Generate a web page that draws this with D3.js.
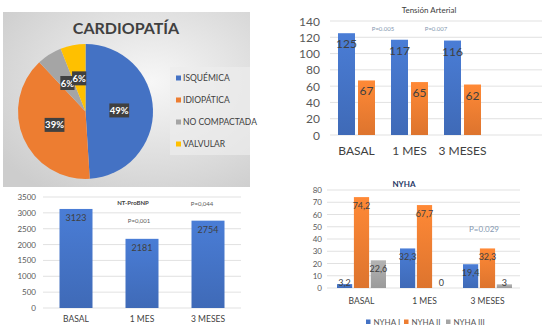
<!DOCTYPE html>
<html><head><meta charset="utf-8">
<script src="https://cdn.jsdelivr.net/npm/d3@7"></script>
<style>body{margin:0;background:#fff}svg{display:block;font-family:Lato,"Open Sans",sans-serif}</style>
</head><body>
<svg id="c" width="560" height="336"></svg>
<script>
// ---- data ----
const pieLabels = ["ISQUÉMICA","IDIOPÁTICA","NO COMPACTADA","VALVULAR"];
const pieValues = [49,39,6,6];
const pieColors = ["#4472C4","#ED7D31","#A5A5A5","#FFC000"];

const taCategories = ["BASAL","1 MES","3 MESES",""];
const taSistolica = [125,117,116];
const taDiastolica = [67,65,62];
const taTicks = [0,20,40,60,80,100,120,140];
const taPvalues = ["P=0.005","P=0.007"];

const bnpCategories = ["BASAL","1 MES","3 MESES"];
const bnpValues = [3123,2181,2754];
const bnpTicks = [0,500,1000,1500,2000,2500,3000,3500];
const bnpPvalues = ["P=0,001","P=0,044"];

const nyhaCategories = ["BASAL","1 MES","3 MESES"];
const nyhaSeries = ["NYHA I","NYHA II","NYHA III"];
const nyhaI = [3.2,32.3,19.4];
const nyhaII = [74.2,67.7,32.3];
const nyhaIII = [22.6,0,3];
const nyhaLabelsI = ["3,2","32,3","19,4"];
const nyhaLabelsII = ["74,2","67,7","32,3"];
const nyhaLabelsIII = ["22,6","0","3"];
const nyhaTicks = [0,10,20,30,40,50,60,70,80];
const nyhaColors = ["#4472C4","#ED7D31","#A5A5A5"];

const svg = d3.select("#c");
const defs = svg.append("defs");
const rg = defs.append("radialGradient").attr("id","pbg").attr("cx","60%").attr("cy","40%").attr("r","75%");
rg.append("stop").attr("offset","0%").attr("stop-color","#f7f7f7");
rg.append("stop").attr("offset","100%").attr("stop-color","#cdcdcd");
function barGrad(id,c){
  const g=defs.append("linearGradient").attr("id",id).attr("x1",0).attr("y1",0).attr("x2",0).attr("y2",1);
  g.append("stop").attr("offset","0%").attr("stop-color",d3.color(c).brighter(0.25));
  g.append("stop").attr("offset","100%").attr("stop-color",d3.color(c).darker(0.2));
}
barGrad("gb","#4472C4"); barGrad("go","#ED7D31"); barGrad("gg","#A5A5A5");

// ---- Pie panel ----
const pp = svg.append("g");
pp.append("rect").attr("x",3).attr("y",12).attr("width",247).attr("height",175).attr("fill","url(#pbg)");
pp.append("text").attr("x",126).attr("y",34).attr("text-anchor","middle").attr("font-size",16).attr("font-weight","bold").attr("fill","#404040").text("CARDIOPATÍA");
const pie = d3.pie().sort(null).value(d=>d)(pieValues);
const R = 67.5;
const arc = d3.arc().innerRadius(0).outerRadius(R);
const pg = pp.append("g").attr("transform","translate(85.5,111.5)");
pg.selectAll("path").data(pie).join("path").attr("d",arc).attr("fill",(d,i)=>pieColors[i]);
const lbl = pg.selectAll("g.l").data(pie).join("g").attr("class","l").attr("transform",d=>{const c=arc.centroid(d);return `translate(${c[0]},${c[1]})`;});
lbl.each(function(d){
  const t = d.value+"%";
  const w = t.length*5.6+3;
  d3.select(this).append("rect").attr("x",-w/2).attr("y",-7).attr("width",w).attr("height",14).attr("fill","#404040");
  d3.select(this).append("text").attr("text-anchor","middle").attr("y",3.5).attr("font-size",9.5).attr("font-weight","bold").attr("fill","#fff").text(t);
});
pp.append("rect").attr("x",170).attr("y",67).attr("width",80).attr("height",88).attr("fill","#ececec").attr("opacity",0.7);
const lg = pp.selectAll("g.lg").data(pieLabels).join("g").attr("transform",(d,i)=>`translate(176,${78+i*22})`);
lg.append("rect").attr("x",0).attr("y",-2.5).attr("width",5).attr("height",5).attr("fill",(d,i)=>pieColors[i]);
lg.append("text").attr("x",7).attr("y",3).attr("font-size",8.5).attr("fill","#404040").text(d=>d);

// ---- Tensión Arterial ----
const ta = svg.append("g");
const taY = d3.scaleLinear().domain([0,140]).range([135,21]);
const taX = d3.scaleBand().domain(taCategories.map((d,i)=>i)).range([330,542]);
ta.append("text").attr("x",429).attr("y",13).attr("text-anchor","middle").attr("font-size",8).attr("fill","#404040").text("Tensión Arterial");
ta.append("g").selectAll("line").data(taTicks).join("line").attr("x1",330).attr("x2",542).attr("y1",d=>taY(d)).attr("y2",d=>taY(d)).attr("stroke","#d9d9d9").attr("stroke-width",0.8);
ta.append("g").selectAll("text").data(taTicks).join("text").attr("x",320).attr("y",d=>taY(d)+4.5).attr("text-anchor","end").attr("font-size",12).attr("fill","#595959").text(d=>d);
const taBW = 17;
[taSistolica,taDiastolica].forEach((vals,s)=>{
  const gx = i=>taX(i)+8+s*(taBW+3);
  ta.append("g").selectAll("rect").data(vals).join("rect").attr("x",(d,i)=>gx(i)).attr("y",d=>taY(d)).attr("width",taBW).attr("height",d=>taY(0)-taY(d)).attr("fill",s?"url(#go)":"url(#gb)");
  ta.append("g").selectAll("text").data(vals).join("text").attr("x",(d,i)=>gx(i)+taBW/2).attr("y",d=>taY(d)+15).attr("text-anchor","middle").attr("font-size",12).attr("fill","#404040").text(d=>d);
});
ta.append("g").selectAll("text").data(taCategories).join("text").attr("x",(d,i)=>taX(i)+taX.bandwidth()/2).attr("y",155).attr("text-anchor","middle").attr("font-size",12).attr("fill","#404040").text(d=>d);
ta.append("g").selectAll("text").data(taPvalues).join("text").attr("x",(d,i)=>taX(i)+taX.bandwidth()).attr("y",31).attr("text-anchor","middle").attr("font-size",6).attr("fill","#8497b0").text(d=>d);

// ---- NT-ProBNP ----
const bn = svg.append("g");
const bY = d3.scaleLinear().domain([0,3500]).range([308,197]);
const bX = d3.scaleBand().domain(bnpCategories).range([43,241]).paddingInner(0.5).paddingOuter(0.25);
bn.append("g").selectAll("line").data(bnpTicks).join("line").attr("x1",43).attr("x2",241).attr("y1",d=>bY(d)).attr("y2",d=>bY(d)).attr("stroke","#d9d9d9").attr("stroke-width",0.8);
bn.append("g").selectAll("text").data(bnpTicks).join("text").attr("x",36).attr("y",d=>bY(d)+3).attr("text-anchor","end").attr("font-size",8).attr("fill","#595959").text(d=>d);
bn.append("g").selectAll("rect").data(bnpValues).join("rect").attr("x",(d,i)=>bX(bnpCategories[i])).attr("y",d=>bY(d)).attr("width",bX.bandwidth()).attr("height",d=>bY(0)-bY(d)).attr("fill","url(#gb)");
bn.append("g").selectAll("text").data(bnpValues).join("text").attr("x",(d,i)=>bX(bnpCategories[i])+bX.bandwidth()/2).attr("y",d=>bY(d)+12).attr("text-anchor","middle").attr("font-size",9).attr("fill","#404040").text(d=>d);
bn.append("g").selectAll("text").data(bnpCategories).join("text").attr("x",d=>bX(d)+bX.bandwidth()/2).attr("y",322).attr("text-anchor","middle").attr("font-size",8.5).attr("fill","#404040").text(d=>d);
bn.append("text").attr("x",133).attr("y",205).attr("text-anchor","middle").attr("font-size",6).attr("font-weight","bold").attr("fill","#404040").text("NT-ProBNP");
bn.append("text").attr("x",139).attr("y",223).attr("text-anchor","middle").attr("font-size",6).attr("fill","#595959").text(bnpPvalues[0]);
bn.append("text").attr("x",202).attr("y",206).attr("text-anchor","middle").attr("font-size",6).attr("fill","#595959").text(bnpPvalues[1]);

// ---- NYHA ----
const ny = svg.append("g");
const nY = d3.scaleLinear().domain([0,80]).range([288,190]);
const nX = d3.scaleBand().domain(nyhaCategories).range([330,519]);
const nS = d3.scaleBand().domain(nyhaSeries).range([0,49]).paddingInner(0.1);
ny.append("text").attr("x",404).attr("y",187).attr("text-anchor","middle").attr("font-size",8).attr("font-weight","bold").attr("fill","#1f3864").text("NYHA");
ny.append("g").selectAll("line").data(nyhaTicks).join("line").attr("x1",327).attr("x2",520).attr("y1",d=>nY(d)).attr("y2",d=>nY(d)).attr("stroke","#d9d9d9").attr("stroke-width",0.8);
ny.append("g").selectAll("text").data(nyhaTicks).join("text").attr("x",322).attr("y",d=>nY(d)+3).attr("text-anchor","end").attr("font-size",8).attr("fill","#595959").text(d=>d);
const nyVals=[nyhaI,nyhaII,nyhaIII], nyLbls=[nyhaLabelsI,nyhaLabelsII,nyhaLabelsIII], nyFills=["url(#gb)","url(#go)","url(#gg)"];
nyVals.forEach((vals,s)=>{
  const bx = i=>nX(nyhaCategories[i])+(nX.bandwidth()-49)/2+nS(nyhaSeries[s]);
  ny.append("g").selectAll("rect").data(vals).join("rect").attr("x",(d,i)=>bx(i)).attr("y",d=>nY(d)).attr("width",nS.bandwidth()).attr("height",d=>nY(0)-nY(d)).attr("fill",nyFills[s]);
  ny.append("g").selectAll("text").data(vals).join("text").attr("x",(d,i)=>bx(i)+nS.bandwidth()/2).attr("y",d=>Math.min(nY(d)+12,nY(0)-2)).attr("text-anchor","middle").attr("font-size",9).attr("fill","#404040").text((d,i)=>nyLbls[s][i]);
});
ny.append("g").selectAll("text").data(nyhaCategories).join("text").attr("x",d=>nX(d)+nX.bandwidth()/2).attr("y",304).attr("text-anchor","middle").attr("font-size",8.5).attr("fill","#404040").text(d=>d);
ny.append("text").attr("x",484).attr("y",232).attr("text-anchor","middle").attr("font-size",8).attr("fill","#8497b0").text("P=0.029");
const nlx=[366,404,446];
const nl = ny.selectAll("g.nl").data(nyhaSeries).join("g").attr("transform",(d,i)=>`translate(${nlx[i]},322)`);
nl.append("rect").attr("x",0).attr("y",-2.5).attr("width",4.5).attr("height",4.5).attr("fill",(d,i)=>nyhaColors[i]);
nl.append("text").attr("x",7.5).attr("y",3).attr("font-size",8).attr("fill","#595959").text(d=>d);
</script>
</body></html>
